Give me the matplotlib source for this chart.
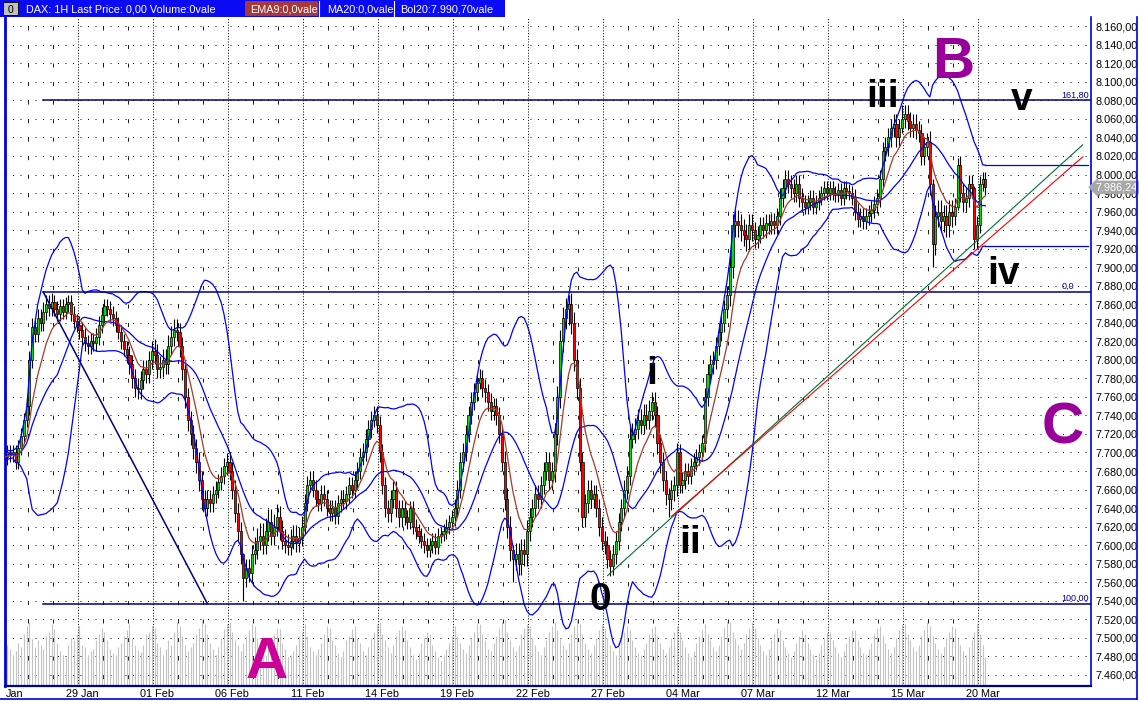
import matplotlib.pyplot as plt
import matplotlib.transforms as mtransforms
from matplotlib.patches import Rectangle
from matplotlib.lines import Line2D
import numpy as np
import pandas as pd

plt.rcParams['font.family'] = ['Liberation Sans', 'DejaVu Sans']

# --- data (DAX hourly, 24 Jan - 20 Mar) ---
day_labels = ['Jan', '29 Jan', '01 Feb', '06 Feb', '11 Feb', '14 Feb', '19 Feb',
              '22 Feb', '27 Feb', '04 Mar', '07 Mar', '12 Mar', '15 Mar', '20 Mar']

closes_by_day = [
    [7695, 7700, 7698, 7700, 7690, 7705, 7718, 7735, 7750],
    [7800, 7835, 7828, 7845, 7840, 7852, 7860, 7856, 7862],
    [7855, 7850, 7858, 7852, 7860, 7862, 7850, 7842, 7838],
    [7832, 7825, 7818, 7815, 7820, 7818, 7825, 7838, 7848],
    [7858, 7855, 7850, 7845, 7838, 7830, 7820, 7812, 7805],
    [7795, 7780, 7770, 7768, 7778, 7790, 7785, 7800, 7810],
    [7805, 7790, 7792, 7800, 7795, 7815, 7825, 7832, 7830],
    [7815, 7790, 7760, 7735, 7720, 7705, 7690, 7670, 7650],
    [7640, 7650, 7645, 7655, 7660, 7668, 7675, 7685, 7690],
    [7680, 7660, 7635, 7615, 7590, 7565, 7575, 7570, 7590],
    [7595, 7605, 7610, 7600, 7615, 7625, 7610, 7620, 7630],
    [7615, 7605, 7600, 7598, 7605, 7610, 7602, 7608, 7620],
    [7645, 7665, 7670, 7660, 7650, 7645, 7655, 7650, 7640],
    [7635, 7640, 7632, 7645, 7650, 7648, 7655, 7665, 7660],
    [7670, 7680, 7695, 7700, 7715, 7725, 7735, 7740, 7730],
    [7700, 7665, 7640, 7635, 7650, 7660, 7640, 7630, 7640],
    [7630, 7625, 7640, 7620, 7615, 7610, 7605, 7600, 7595],
    [7600, 7605, 7598, 7610, 7612, 7615, 7620, 7625, 7630],
    [7640, 7660, 7690, 7700, 7720, 7740, 7755, 7765, 7775],
    [7780, 7770, 7765, 7755, 7745, 7750, 7740, 7720, 7690],
    [7650, 7620, 7595, 7585, 7590, 7580, 7595, 7590, 7615],
    [7630, 7640, 7655, 7650, 7665, 7680, 7690, 7670, 7680],
    [7720, 7760, 7820, 7845, 7855, 7860, 7840, 7800, 7770],
    [7690, 7630, 7645, 7660, 7650, 7655, 7640, 7620, 7605],
    [7600, 7585, 7578, 7590, 7605, 7625, 7640, 7660, 7675],
    [7715, 7720, 7725, 7735, 7730, 7740, 7735, 7745, 7755],
    [7740, 7710, 7690, 7670, 7655, 7650, 7660, 7665, 7700],
    [7665, 7670, 7680, 7675, 7685, 7690, 7695, 7700, 7710],
    [7760, 7785, 7795, 7800, 7815, 7830, 7840, 7855, 7870],
    [7900, 7945, 7950, 7945, 7940, 7935, 7930, 7945, 7940],
    [7930, 7935, 7945, 7940, 7948, 7945, 7950, 7945, 7955],
    [7975, 7985, 7995, 7990, 7985, 7980, 7990, 7975, 7970],
    [7965, 7970, 7975, 7965, 7970, 7975, 7980, 7985, 7980],
    [7985, 7980, 7978, 7983, 7975, 7985, 7982, 7980, 7975],
    [7960, 7952, 7955, 7950, 7955, 7958, 7962, 7968, 7975],
    [7995, 8025, 8030, 8040, 8050, 8055, 8040, 8050, 8060],
    [8065, 8058, 8050, 8055, 8048, 8045, 8020, 8030, 8035],
    [7990, 7925, 7955, 7960, 7950, 7955, 7945, 7960, 7955],
    [7965, 8010, 7980, 7970, 7975, 7990, 7985, 7930, 7945],
    [7990, 7995, 7986.24],
]
first_open = 7692

wick_up = [8, 10, 8, 9, 8, 10, 12, 10, 9, 10, 14, 12, 10, 9, 10, 9, 8, 8, 10, 9,
           12, 10, 12, 10, 10, 12, 10, 9, 10, 12, 9, 10, 8, 8, 9, 10, 10, 12, 10, 8]
wick_dn = [8, 9, 8, 9, 8, 10, 10, 12, 9, 10, 10, 9, 8, 9, 9, 10, 8, 8, 9, 10,
           12, 10, 12, 10, 10, 10, 12, 9, 10, 12, 9, 10, 8, 8, 9, 10, 10, 12, 10, 8]

# (day, hour) -> (high, low) for the notable swing bars
extremes = {
    (9, 5): (7592, 7540), (20, 3): (7600, 7560), (22, 5): (7870, 7838),
    (24, 2): (7595, 7567), (25, 8): (7765, 7735), (26, 5): (7662, 7630),
    (35, 8): (8075, 8045), (37, 1): (7995, 7900), (38, 1): (8018, 7962),
    (38, 7): (7988, 7920), (19, 0): (7790, 7768), (14, 7): (7750, 7728),
}

volume_by_day = [
    [48, 40, 36, 30, 34, 42, 38, 50, 58], [62, 45, 38, 44, 40, 36, 48, 52, 60],
    [55, 42, 34, 30, 28, 40, 46, 44, 50], [58, 40, 38, 30, 34, 36, 44, 50, 56],
    [52, 44, 36, 32, 30, 38, 42, 48, 54], [60, 46, 40, 35, 33, 40, 50, 52, 58],
    [56, 42, 38, 30, 36, 44, 40, 52, 62], [58, 48, 40, 34, 38, 42, 50, 56, 64],
    [60, 50, 42, 36, 30, 38, 46, 55, 60], [62, 52, 44, 40, 34, 42, 48, 54, 60],
    [58, 46, 40, 32, 30, 36, 44, 50, 56], [55, 42, 36, 28, 30, 34, 40, 48, 52],
    [60, 48, 38, 34, 30, 36, 42, 50, 58], [56, 44, 40, 32, 28, 34, 44, 48, 55],
    [58, 46, 42, 34, 30, 38, 46, 52, 60], [62, 50, 44, 38, 32, 40, 48, 54, 58],
    [54, 44, 38, 30, 26, 32, 42, 46, 52], [50, 40, 34, 28, 24, 30, 36, 42, 48],
    [58, 48, 42, 36, 32, 40, 46, 52, 60], [60, 50, 44, 36, 34, 42, 48, 56, 62],
    [64, 52, 44, 38, 34, 40, 50, 56, 60], [58, 46, 40, 34, 30, 38, 44, 52, 58],
    [62, 54, 46, 40, 36, 42, 50, 58, 64], [60, 50, 42, 36, 32, 40, 46, 54, 60],
    [56, 46, 40, 34, 30, 38, 46, 52, 58], [54, 44, 38, 32, 30, 36, 42, 50, 56],
    [58, 48, 42, 36, 32, 38, 46, 52, 58], [52, 44, 38, 32, 28, 34, 42, 48, 54],
    [60, 50, 44, 38, 34, 40, 48, 56, 62], [62, 52, 46, 40, 36, 42, 50, 56, 62],
    [56, 46, 40, 34, 30, 36, 44, 50, 56], [54, 44, 38, 32, 28, 34, 42, 48, 54],
    [50, 42, 36, 30, 26, 32, 40, 46, 52], [52, 44, 38, 32, 28, 34, 42, 48, 54],
    [54, 44, 38, 32, 30, 36, 42, 50, 56], [58, 48, 42, 36, 32, 38, 46, 54, 60],
    [60, 50, 44, 38, 34, 40, 48, 54, 62], [58, 48, 42, 36, 32, 38, 46, 52, 58],
    [56, 46, 40, 34, 30, 38, 44, 52, 60], [50, 40, 28],
]

# fibonacci retracement (0 = 7873 high, 100 = 7537 low) and trend lines
fib_levels = [8080, 7873, 7537]
fib_names = ['161,80', '0,0', '100,00']
fib_start_bar, fib_end_bar = 14, 73
green_line = ([217, 388], [7567, 8032])
red_line = ([240, 388], [7631, 8019])
last_price = 7986.24

# --- build bars ---
BARS_PER_DAY = 9
idx, closes, vols, hi_ext, lo_ext, keys = [], [], [], [], [], []
for d, row in enumerate(closes_by_day):
    for h, c in enumerate(row):
        idx.append(d * BARS_PER_DAY + h)
        closes.append(c)
        vols.append(volume_by_day[d][h])
        hi_ext.append(wick_up[d])
        lo_ext.append(wick_dn[d])
        keys.append((d, h))
idx = np.array(idx)
closes = np.array(closes, dtype=float)
opens = np.concatenate([[first_open], closes[:-1]])
highs = np.maximum(opens, closes) + np.array(hi_ext)
lows = np.minimum(opens, closes) - np.array(lo_ext)
for i, k in enumerate(keys):
    if k in extremes:
        highs[i], lows[i] = extremes[k]
        highs[i] = max(highs[i], opens[i], closes[i])
        lows[i] = min(lows[i], opens[i], closes[i])

s = pd.Series(closes)
ema9 = s.ewm(span=9, adjust=False).mean()
ma20 = s.rolling(20, min_periods=1).mean()
sd20 = s.rolling(20, min_periods=2).std(ddof=0).fillna(0)
upper = ma20 + 2 * sd20
lower = ma20 - 2 * sd20

# --- figure ---
W, H = 1139, 701
fig = plt.figure(figsize=(W / 100, H / 100), dpi=100)
ax = fig.add_axes([5 / W, 15 / H, 1086 / W, 669 / H])
XMIN, XMAX = 0.2, 391
YMIN, YMAX = 7448, 8170
ax.set_xlim(XMIN, XMAX)
ax.set_ylim(YMIN, YMAX)

# grid
for p in range(7460, 8161, 20):
    ax.axhline(p, color='black', lw=0.72, ls=(0, (1, 6.5)), zorder=0.5)
n_days = len(closes_by_day)
step = 669 / (YMAX - YMIN) * 20
for d in range(n_days):
    x = d * BARS_PER_DAY - 0.5
    if d % 3 == 0:
        ax.axvline(x, color='black', lw=0.72, ls=(0, (1, 1.8)), zorder=0.5)
    else:
        ax.plot([x, x], [YMAX, YMIN], color='#202020', lw=0.72,
                ls=(step - 9, (4, step - 4)), zorder=0.5)

# volume
vt = mtransforms.blended_transform_factory(ax.transData, ax.transAxes)
vols = np.array(vols, dtype=float)
ax.vlines(idx, 0, vols / vols.max() * 0.099, transform=vt, color='#c4c4c4', lw=0.8, zorder=1)

# candles
up = closes >= opens
body_h = np.where(np.abs(closes - opens) < 1.5, 1.5, closes - opens)
ax.vlines(idx, lows, highs, color='black', lw=0.8, zorder=2)
ax.bar(idx, body_h, bottom=opens, width=0.75,
       color=np.where(up, '#00e000', '#ff0000'), edgecolor='black', linewidth=0.5, zorder=3)

# indicators
ax.plot(idx, upper, color='#0000ff', lw=0.9, zorder=4)
ax.plot(idx, lower, color='#0000ff', lw=0.9, zorder=4)
ax.plot(idx, ma20, color='#0000ff', lw=0.9, zorder=4)
ax.plot(idx, ema9, color='#a83a2a', lw=0.9, zorder=4)
ext = np.arange(idx[-1], 391)
ax.plot(ext, np.full(len(ext), upper.iloc[-1]), color='#0000ff', lw=0.9, zorder=4)
ax.plot(ext, np.full(len(ext), lower.iloc[-1]), color='#0000ff', lw=0.9, zorder=4)

# fibonacci
for lvl, name in zip(fib_levels, fib_names):
    ax.plot([fib_start_bar, XMAX], [lvl, lvl], color='#000080', lw=1.1, zorder=4)
    ax.text(380.5, lvl + 1, name, color='#0000a0', fontsize=6.5, ha='left', va='bottom', zorder=5)
ax.plot([fib_start_bar, fib_end_bar], [fib_levels[1], fib_levels[2]], color='#000080', lw=1.1, zorder=4)

# trend lines
ax.plot(*green_line, color='#007030', lw=0.8, zorder=5)
ax.plot(*red_line, color='#ff0000', lw=0.8, zorder=5)

# axes styling
ax.spines['top'].set_visible(False)
ax.spines['left'].set_color('#0000e0')
ax.spines['left'].set_linewidth(2)
ax.spines['right'].set_color('#0000e0')
ax.spines['right'].set_linewidth(1.2)
ax.spines['bottom'].set_color('#000090')
ax.spines['bottom'].set_linewidth(1.6)

ax.yaxis.tick_right()
yt = list(range(7460, 8161, 20))
ax.set_yticks(yt)
ax.set_yticklabels([f'{v:,.2f}'.replace(',', 'X').replace('.', ',').replace('X', '.') for v in yt])
ax.tick_params(axis='y', length=0, pad=3, labelsize=7.8, labelcolor='#000000')
xt = [3.5] + [d * BARS_PER_DAY + 1 for d in range(3, n_days, 3)]
ax.set_xticks(xt)
ax.set_xticklabels(day_labels)
ax.tick_params(axis='x', length=0, pad=2, labelsize=7.8)

# last price tag (covers the 7.980 label, as in the source chart)
ax.text(1.004, last_price, '7.986,24', transform=mtransforms.blended_transform_factory(ax.transAxes, ax.transData),
        color='white', fontsize=7.8, ha='left', va='center', zorder=10, clip_on=False,
        bbox=dict(boxstyle='larrow,pad=0.15', fc='#a8a8a8', ec='none'))

# wave labels
def ftext(x, y, s, **kw):
    fig.text(x / W, 1 - y / H, s, ha='center', va='baseline', **kw)

ftext(953, 78, 'B', fontsize=42, fontweight='bold', color='#990099')
ftext(267, 678, 'A', fontsize=42, fontweight='bold', color='#cc0099')
ftext(1063, 443, 'C', fontsize=42, fontweight='bold', color='#990099')
for s_, x, y in [('iii', 883, 107), ('v', 1022, 110), ('iv', 1003, 284),
                 ('i', 652, 384), ('ii', 690, 553), ('0', 600, 610)]:
    ftext(x, y, s_, fontsize=28, fontweight='bold', color='black')

# header bar
fig.patches.append(Rectangle((0, 1 - 17 / H), 505 / W, 17 / H, transform=fig.transFigure,
                             fc='#0a0af5', ec='none'))
fig.patches.append(Rectangle((3 / W, 1 - 15 / H), 15 / W, 13 / H, transform=fig.transFigure,
                             fc='#c0c0c0', ec='black', lw=0.6))
fig.text(10.5 / W, 1 - 13 / H, '0', fontsize=7.5, ha='center', va='baseline', color='black')
fig.patches.append(Rectangle((245 / W, 1 - 16 / H), 73 / W, 15 / H, transform=fig.transFigure,
                             fc='#a83838', ec='none'))
for xs in [319, 394]:
    fig.lines.append(Line2D([xs / W, xs / W], [1 - 16 / H, 1 - 1 / H], transform=fig.transFigure,
                            color='white', lw=0.8))
for txt, x in [('DAX: 1H Last Price: 0,00 Volume:0vale', 26), ('EMA9:0,0vale', 250),
               ('MA20:0,0vale', 327), ('Bol20:7.990,70vale', 400)]:
    fig.text(x / W, 1 - 13 / H, txt, fontsize=7.8, color='white', ha='left', va='baseline')

# outer frame
fig.lines.append(Line2D([1137 / W, 1137 / W], [2 / H, 1 - 17 / H], transform=fig.transFigure,
                        color='#0000e0', lw=1.2))
fig.lines.append(Line2D([0, 1137 / W], [2 / H, 2 / H], transform=fig.transFigure,
                        color='#0000e0', lw=1.2))

fig.savefig('out.png', dpi=100)
